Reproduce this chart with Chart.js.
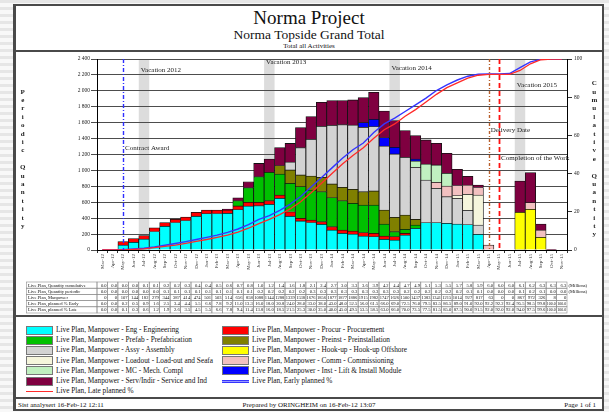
<!DOCTYPE html>
<html>
<head>
<meta charset="utf-8">
<script src="https://cdn.jsdelivr.net/npm/chart.js@4.4.1/dist/chart.umd.min.js"></script>
<style>
  html,body{margin:0;padding:0;}
  body{width:609px;height:412px;overflow:hidden;position:relative;
    font-family:'Liberation Serif','Times New Roman',serif;color:#111;
    background:repeating-linear-gradient(180deg,#e6e6e6 0 3px,#f8f8f8 3px 7px);}
  #page{position:absolute;left:13px;top:4px;width:586px;height:403px;background:#fff;
    border:2px solid #4a4a4a;border-left-width:3px;}
  .sep{position:absolute;left:16px;width:586px;height:2px;background:#4a4a4a;}
  .ttl{position:absolute;left:16px;width:586px;text-align:center;white-space:nowrap;}
  #wrap{position:absolute;left:16px;top:52px;width:588px;height:263px;}
  .lg{position:absolute;height:10px;line-height:10px;font-size:7.3px;white-space:nowrap;}
  .sw{position:absolute;width:27px;height:9px;box-sizing:border-box;border:1px solid #777;}
  .ft{position:absolute;top:400px;height:10px;line-height:10px;font-size:7px;white-space:nowrap;}
</style>
</head>
<body>
<div id="page"></div>
<div class="sep" style="top:50px"></div>
<div class="sep" style="top:315px"></div>
<div class="sep" style="top:397px"></div>
<div class="ttl" style="top:7px;font-size:19px;line-height:22px">Norma Project</div>
<div class="ttl" style="top:27px;font-size:13.5px;line-height:16px">Norma Topside Grand Total</div>
<div class="ttl" style="top:42px;font-size:7px;line-height:9px">Total all Activities</div>
<div id="wrap"><canvas id="chart" width="588" height="263"></canvas></div>
<div id="legend"></div>
<div class="ft" style="left:18px">Sist analysert 16-Feb-12 12:11</div>
<div class="ft" style="left:16px;width:586px;text-align:center">Prepared by ORINGHEIM on 16-Feb-12 13:07</div>
<div class="ft" style="left:540px;width:56px;text-align:right">Page 1 of 1</div>
<script>
// --- data ---
var months = ['Mar-12','Apr-12','May-12','Jun-12','Jul-12','Aug-12','Sep-12','Oct-12','Nov-12','Dec-12',
  'Jan-13','Feb-13','Mar-13','Apr-13','May-13','Jun-13','Jul-13','Aug-13','Sep-13','Oct-13','Nov-13','Dec-13',
  'Jan-14','Feb-14','Mar-14','Apr-14','May-14','Jun-14','Jul-14','Aug-14','Sep-14','Oct-14','Nov-14','Dec-14',
  'Jan-15','Feb-15','Mar-15','Apr-15','May-15','Jun-15','Jul-15','Aug-15','Sep-15','Oct-15','Nov-15'];

var eng     = [0,0,62,96,138, 232,298,345,370,425, 457,458,462,507,553, 557,574,650,425,365, 344,323,251,210,201, 176,168,134,126,189, 272,344,344,335,327, 320,197,0,0,0, 0,0,0,0,0];
var procur  = [0,0,45,48,44, 47,46,42,44,49, 44,45,40,47,47, 43,46,41,55,33, 33,33,42,41,38, 42,42,42,42,21, 0,0,0,0,0, 0,0,0,0,0, 0,0,0,0,0];
var prefab  = [0,0,0,0,0, 0,0,0,0,0, 0,0,0,66,183, 321,356,264,358,398, 377,377,365,369,348, 348,356,151,62,50, 42,0,0,0,0, 0,0,0,0,0, 0,0,0,0,0];
var preinst = [0,0,0,0,0, 0,0,0,0,0, 0,0,0,0,0, 0,0,105,168,147, 176,180,172,168,176, 167,176,176,181,180, 71,0,0,0,0, 0,0,0,0,0, 0,0,0,0,0];
var assy    = [0,0,0,0,0, 0,0,0,0,0, 0,0,0,0,0, 0,0,0,100,343, 461,641,737,787,808, 809,808,804,796,725, 654,536,432,335,322, 180,117,0,0,0, 0,0,0,0,0];
var loadout = [0,0,0,0,0, 0,0,0,0,0, 0,0,0,0,0, 0,0,0,0,0, 0,0,0,0,0, 0,0,0,0,0, 0,0,0,0,34, 200,377,0,0,0, 0,0,0,0,0];
var hookup  = [0,0,0,0,0, 0,0,0,0,0, 0,0,0,0,0, 0,0,0,0,0, 0,0,0,0,0, 0,0,0,0,0, 0,0,0,0,0, 0,0,0,0,0, 473,511,159,0,0];
var comm    = [0,0,0,0,0, 0,0,0,0,0, 0,0,0,0,0, 0,0,0,0,0, 0,0,0,0,0, 0,0,0,0,0, 0,0,75,134,126, 117,93,63,0,0, 0,84,92,0,0];
var mc      = [0,0,0,0,0, 0,0,0,0,0, 0,0,0,0,0, 0,0,0,0,0, 0,0,0,0,0, 0,0,0,0,0, 80,201,218,160,0, 0,0,0,0,0, 0,0,0,0,0];
var inst    = [0,0,0,0,0, 0,0,0,0,0, 0,0,0,0,0, 0,0,0,0,0, 0,0,0,0,0, 59,92,105,83,0, 25,0,0,0,0, 0,0,0,0,0, 0,0,0,0,0];
var serv    = [0,0,0,0,0, 0,0,0,0,0, 0,0,12,36,75, 167,168,228,233,252, 285,302,310,302,315, 314,340,335,336,335, 293,302,272,251,205, 110,33,0,0,0, 394,377,75,8,0];

var earlyPct = [0,0,0.2,0.5,0.9, 1.6,2.5,3.4,4.4,5.5, 6.6,7.8,9.2,11.0,13.3, 16.0,18.0,20.8,24.0,28.0, 33.0,38.0,43.0,48.0,52.5, 56.0,61.5,66.0,69.0,72.5, 76.0,79.5,83.5,86.5,89.0, 91.0,92.0,92.2,92.2,92.4, 95.5,98.5,99.8,100,100];
var latePct  = [0,0,0.1,0.3,0.6, 1.2,1.9,2.6,3.5,4.5, 5.5,6.6,7.8,9.4,11.4, 13.8,16.0,18.5,21.5,25.3, 30.0,35.0,40.0,45.0,49.5, 53.5,58.5,63.0,66.0,70.0, 73.5,77.5,81.5,85.0,87.5, 90.0,91.5,92.0,92.0,92.0, 94.0,97.5,99.6,100,100];

var yTicks  = [0,200,400,600,800,1000,1200,1400,1600,1800,2000,2200,2400];
var y1Ticks = [0,20,40,60,80,100];
var HOURS_PER_MONTH = 157;   // man-hours per man-month (table quantity vs manpower)

// vacations and milestones
var vacMonths = ['Jul-12','Jul-13','Jul-14','Jul-15'];
var vacLabels = ['Vacation 2012','Vacation 2013','Vacation 2014','Vacation 2015'];
var vacLabelY = [2262,2363,2288,2074];
var msMonths  = ['May-12','Apr-15','May-15'];
var msLabels  = ['Contract Award','Delivery Date','Completion of the Work'];
var msLabelY  = [1278,1508,1152];
var msColors  = ['#2e2eff','#b8602c','#ff1010'];
var msDash    = [[4,2,1,2],[3,2,1,2],[5,3]];

// series in stacking order
var seriesData   = [eng,procur,prefab,preinst,assy,loadout,hookup,comm,mc,inst,serv];
var seriesNames  = ['Live Plan, Manpower - Eng - Engineering','Live Plan, Manpower - Procur - Procurement',
  'Live Plan, Manpower - Prefab - Prefabrication','Live Plan, Manpower - Preinst - Preinstallation',
  'Live Plan, Manpower - Assy - Assembly','Live Plan, Manpower - Loadout - Load-out and Seafa',
  'Live Plan, Manpower - Hook-up - Hook-up Offshore','Live Plan, Manpower - Comm - Commissioning',
  'Live Plan, Manpower - MC - Mech. Compl','Live Plan, Manpower - Inst - Lift & Install Module',
  'Live Plan, Manpower - Serv/Indir - Service and Ind'];
var seriesColors = ['#00ffff','#ff0000','#00c000','#808000','#d3d3d3','#f5f5dc','#ffff00','#f2c0c0','#c0f0c0','#0000ff','#7f0040'];
var legendLeftOrder  = [0,2,4,5,8,10];
var legendRightOrder = [1,3,6,7,9];

(function(){
  var FONT = "'Liberation Serif','Times New Roman',serif";
  Chart.defaults.font.family = FONT;
  Chart.defaults.color = '#222';

  var datasets = seriesData.map(function(arr,i){
    return {
      type:'bar', label:seriesNames[i],
      data:arr.map(function(v){ return v || null; }),
      backgroundColor:seriesColors[i], borderColor:'#111', borderWidth:0.8,
      barPercentage:1, categoryPercentage:1, stack:'mp', yAxisID:'y', order:2
    };
  });
  datasets.push({type:'line',label:'Live Plan, Early planned %',data:earlyPct,yAxisID:'y1',
    borderColor:'#3535ff',borderWidth:1.4,pointRadius:0,order:1});
  datasets.push({type:'line',label:'Live Plan, Late planned %',data:latePct,yAxisID:'y1',
    borderColor:'#ff2a2a',borderWidth:1.3,pointRadius:0,order:0});

  // table rows built from the series
  var manpower = months.map(function(m,i){
    return seriesData.reduce(function(s,a){ return s + a[i]; },0);
  });
  var cum = 0, qCum = [], qPer = [];
  manpower.forEach(function(v){
    var q = v*HOURS_PER_MONTH/1e6; cum += q;
    qPer.push(q.toFixed(1)); qCum.push(cum.toFixed(1));
  });
  var rows = [
    {label:'Live Plan, Quantity cumulative', vals:qCum, unit:'(Millions)'},
    {label:'Live Plan, Quantity periodic',   vals:qPer, unit:'(Millions)'},
    {label:'Live Plan, Manpower',            vals:manpower.map(String)},
    {label:'Live Plan, planned % Early',     vals:earlyPct.map(function(v){return v.toFixed(1);})},
    {label:'Live Plan, planned % Late',      vals:latePct.map(function(v){return v.toFixed(1);})}
  ];

  function colHalf(x){ return (x.getPixelForValue(1)-x.getPixelForValue(0))/2; }

  var bands = {
    id:'bands',
    beforeDraw:function(chart){
      var c = chart.ctx, x = chart.scales.x, a = chart.chartArea, h = colHalf(x);
      c.save(); c.fillStyle = '#dcdcdc';
      vacMonths.forEach(function(m){
        var cx = x.getPixelForValue(months.indexOf(m));
        c.fillRect(cx-h, a.top, 2*h, a.bottom-a.top);
      });
      c.restore();
    }
  };

  var marks = {
    id:'marks',
    afterDatasetsDraw:function(chart){
      var c = chart.ctx, x = chart.scales.x, y = chart.scales.y, a = chart.chartArea, h = colHalf(x);
      c.save();
      msMonths.forEach(function(m,i){
        var cx = Math.round(x.getPixelForValue(months.indexOf(m)))+0.5;
        c.strokeStyle = msColors[i]; c.lineWidth = (i===2)?1.8:1.4; c.setLineDash(msDash[i]);
        c.beginPath(); c.moveTo(cx,a.top); c.lineTo(cx,a.bottom); c.stroke();
      });
      c.setLineDash([]);
      c.font = '7px '+FONT; c.fillStyle = '#222'; c.textBaseline = 'middle'; c.textAlign = 'left';
      msMonths.forEach(function(m,i){
        c.fillText(msLabels[i], x.getPixelForValue(months.indexOf(m))+2, y.getPixelForValue(msLabelY[i]));
      });
      vacMonths.forEach(function(m,i){
        c.fillText(vacLabels[i], x.getPixelForValue(months.indexOf(m))-h+2, y.getPixelForValue(vacLabelY[i]));
      });
      c.restore();
    },
    afterDraw:function(chart){
      var c = chart.ctx, x = chart.scales.x, h = colHalf(x);
      c.save();
      // stacked axis titles
      c.font = 'bold 7px '+FONT; c.fillStyle = '#222'; c.textAlign = 'center'; c.textBaseline = 'middle';
      'Periodic Quantity'.split('').forEach(function(ch,i){ c.fillText(ch, 6.7, 39.7+i*8.4); });
      'Cumulative Quantity'.split('').forEach(function(ch,i){ c.fillText(ch, 578.3, 31.3+i*8.4); });
      // data table
      var left = 10.5, top = 230, rh = 6.2;
      var c0 = x.getPixelForValue(0)-h, cEnd = x.getPixelForValue(months.length-1)+h;
      c.font = '4.6px '+FONT; c.strokeStyle = '#8c8c8c'; c.lineWidth = 0.6;
      rows.forEach(function(r,ri){
        var ty = top+ri*rh;
        c.strokeRect(left, ty, c0-left, rh);
        c.fillStyle = '#111'; c.textAlign = 'left';
        c.fillText(r.label, left+1.5, ty+rh/2+0.3, c0-left-2);
        r.vals.forEach(function(v,i){
          var cx = x.getPixelForValue(i);
          c.strokeRect(cx-h, ty, 2*h, rh);
          c.textAlign = 'right';
          c.fillText(v, cx+h-0.8, ty+rh/2+0.3, 2*h-1.5);
        });
        if(r.unit){ c.textAlign = 'left'; c.fillText(r.unit, cEnd+1.5, ty+rh/2+0.3); }
      });
      c.restore();
    }
  };

  new Chart(document.getElementById('chart'),{
    data:{labels:months, datasets:datasets},
    options:{
      responsive:false, animation:false, devicePixelRatio:1,
      layout:{padding:{top:7,bottom:35,left:0,right:0}},
      plugins:{legend:{display:false},tooltip:{enabled:false},title:{display:false}},
      scales:{
        x:{stacked:true, offset:true,
          grid:{drawOnChartArea:false, drawTicks:true, tickLength:3, color:'#333'},
          border:{display:true, color:'#000', width:1},
          ticks:{autoSkip:false, maxRotation:90, minRotation:90, padding:1, font:{size:5}, color:'#333'},
          afterFit:function(s){ s.height = 30; }},
        y:{stacked:true, position:'left', min:0, max:2400,
          afterBuildTicks:function(s){ s.ticks = yTicks.map(function(v){ return {value:v}; }); },
          grid:{color:'#4d4d4d', lineWidth:1, tickLength:6},
          border:{display:true, color:'#000', width:1},
          ticks:{font:{size:5.5}, color:'#222', padding:1,
            callback:function(v){ return String(v).replace(/\B(?=(\d{3})+(?!\d))/g,' '); }},
          afterFit:function(s){ s.width = 81; }},
        y1:{position:'right', min:0, max:100,
          afterBuildTicks:function(s){ s.ticks = y1Ticks.map(function(v){ return {value:v}; }); },
          grid:{drawOnChartArea:false, color:'#333', tickLength:5},
          border:{display:true, color:'#000', width:1},
          ticks:{font:{size:5.5}, color:'#222', padding:2},
          afterFit:function(s){ s.width = 37; }}
      }
    },
    plugins:[bands, marks]
  });

  // legend built from the series definitions
  var lg = document.getElementById('legend'), rowY = [325,335.2,345.4,355.6,365.8,376,386.2];
  function addItem(col, r, text, swatchHtml){
    var sx = col===0 ? 26 : 222, tx = col===0 ? 56 : 252;
    lg.insertAdjacentHTML('beforeend',
      swatchHtml.replace('{X}', sx).replace('{Y}', rowY[r]) +
      '<div class="lg" style="left:'+tx+'px;top:'+rowY[r]+'px">'+text.replace('&','&amp;')+'</div>');
  }
  legendLeftOrder.forEach(function(si,r){
    addItem(0, r, seriesNames[si], '<div class="sw" style="left:{X}px;top:{Y}px;margin-top:0.5px;background:'+seriesColors[si]+'"></div>');
  });
  legendRightOrder.forEach(function(si,r){
    addItem(1, r, seriesNames[si], '<div class="sw" style="left:{X}px;top:{Y}px;margin-top:0.5px;background:'+seriesColors[si]+'"></div>');
  });
  addItem(1, 5, datasets[datasets.length-2].label,
    '<div style="position:absolute;left:{X}px;top:{Y}px;margin-top:4px;width:27px;height:1px;border-top:1px solid #3535ff;border-bottom:1px solid #3535ff;background:#9a9aff"></div>');
  addItem(0, 6, datasets[datasets.length-1].label,
    '<div style="position:absolute;left:{X}px;top:{Y}px;margin-top:4.5px;width:27px;height:1.3px;background:#ff2a2a"></div>');
})();
</script>
</body>
</html>
